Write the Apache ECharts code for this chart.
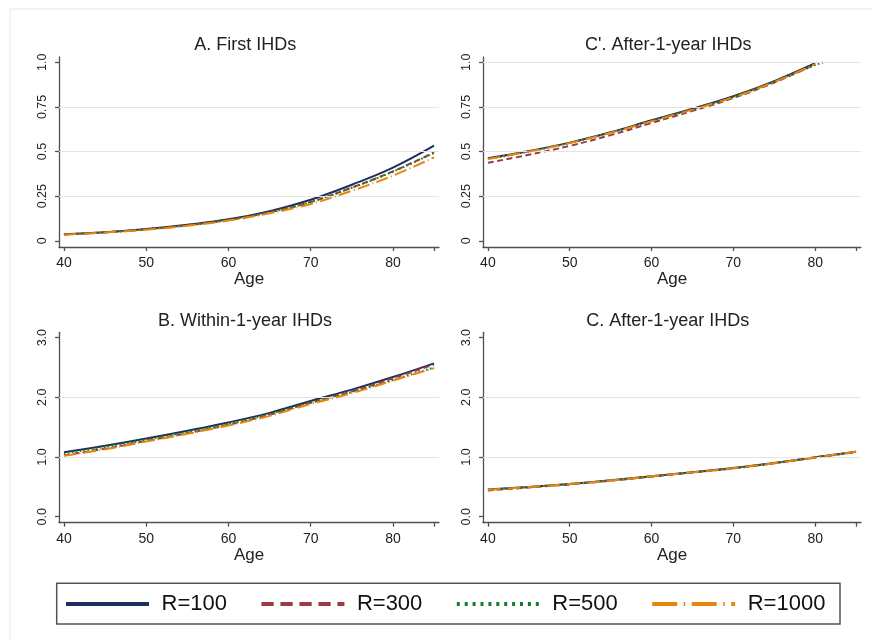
<!DOCTYPE html>
<html>
<head>
<meta charset="utf-8">
<script src="https://cdn.jsdelivr.net/npm/echarts@6/dist/echarts.min.js"></script>
<style>
  html, body { margin: 0; padding: 0; background: #ffffff; }
  #chart { width: 872px; height: 639px; }
</style>
</head>
<body>
<div id="chart"></div>
<script>
// Ages on the horizontal axis
const ages = [40, 45, 50, 55, 60, 65, 70, 75, 80, 85];
const agesAfter = [40, 45, 50, 55, 60, 65, 70, 75, 80];
const agesAfterR500 = [40, 45, 50, 55, 60, 65, 70, 75, 80, 81];

const seriesNames = ['R=100', 'R=300', 'R=500', 'R=1000'];

// A. First IHDs
const firstR100  = [0.036, 0.048, 0.066, 0.090, 0.120, 0.166, 0.230, 0.314, 0.410, 0.533];
const firstR300  = [0.035, 0.047, 0.064, 0.087, 0.117, 0.160, 0.217, 0.298, 0.389, 0.495];
const firstR500  = [0.035, 0.047, 0.064, 0.087, 0.117, 0.160, 0.217, 0.297, 0.387, 0.493];
const firstR1000 = [0.034, 0.046, 0.062, 0.084, 0.113, 0.154, 0.206, 0.280, 0.365, 0.467];

// C'. After-1-year IHDs (0-1 scale)
const afterPR100  = [0.462, 0.503, 0.550, 0.608, 0.675, 0.740, 0.810, 0.895, 0.995];
const afterPR300  = [0.437, 0.482, 0.532, 0.592, 0.660, 0.728, 0.800, 0.887, 0.988];
const afterPR500  = [0.458, 0.500, 0.548, 0.605, 0.672, 0.738, 0.806, 0.892, 0.985, 1.000];
const afterPR1000 = [0.458, 0.500, 0.548, 0.605, 0.670, 0.735, 0.805, 0.890, 0.990];

// B. Within-1-year IHDs
const withinR100  = [1.08, 1.19, 1.31, 1.44, 1.58, 1.74, 1.94, 2.13, 2.34, 2.57];
const withinR300  = [1.03, 1.14, 1.27, 1.40, 1.54, 1.71, 1.91, 2.10, 2.32, 2.55];
const withinR500  = [1.06, 1.17, 1.29, 1.42, 1.56, 1.72, 1.91, 2.09, 2.29, 2.50];
const withinR1000 = [1.02, 1.13, 1.26, 1.39, 1.53, 1.69, 1.89, 2.07, 2.28, 2.49];

// C. After-1-year IHDs (0-3 scale)
const afterR100  = [0.455, 0.500, 0.550, 0.610, 0.680, 0.745, 0.815, 0.900, 0.995, 1.090];
const afterR300  = [0.440, 0.490, 0.542, 0.603, 0.672, 0.740, 0.810, 0.896, 0.992, 1.085];
const afterR500  = [0.452, 0.498, 0.548, 0.608, 0.678, 0.744, 0.813, 0.898, 0.994, 1.088];
const afterR1000 = [0.450, 0.497, 0.547, 0.607, 0.677, 0.743, 0.812, 0.897, 0.993, 1.087];

// Axis ticks and labels
const xTickValues  = [40, 50, 60, 70, 80, 85];
const xLabelValues = [40, 50, 60, 70, 80];
const yTicksSmall  = [0, 0.25, 0.5, 0.75, 1];
const yLabelsSmall = ['0', '0.25', '0.5', '0.75', '1.0'];
const yTicksLarge  = [0, 1, 2, 3];
const yLabelsLarge = ['0.0', '1.0', '2.0', '3.0'];

// Horizontal reference lines per panel
const gridLinesA  = [0.25, 0.5, 0.75];
const gridLinesCp = [0.25, 0.5, 0.75, 1.0];
const gridLinesB  = [1, 2];
const gridLinesC  = [1, 2];

const panelTitles = ['A. First IHDs', "C'. After-1-year IHDs", 'B. Within-1-year IHDs', 'C. After-1-year IHDs'];

const FONT = '"Liberation Sans", Arial, Helvetica, sans-serif';
const AXIS_COLOR = '#505050';
const TEXT_COLOR = '#222222';

const colors = ['#1d2f5e', '#9c3a45', '#13801f', '#e8860c'];
const plotDash = ['solid', [6, 3.5], [1.6, 2.4], [12.5, 3.2, 1, 3.2]];
const legendDash = ['solid', [12.3, 6.7], [3, 4.9], [25, 6.5, 1.5, 6.5]];

const grids = [
  { left: 59,  top: 57,    width: 380, height: 190 },
  { left: 483, top: 57,    width: 378, height: 190 },
  { left: 59,  top: 332.3, width: 380, height: 190.4 },
  { left: 483, top: 332.3, width: 378, height: 190.4 }
];

function zip(xs, ys) {
  return ys.map((y, i) => [xs[i], y]);
}

function makeXAxis(gridIndex) {
  return {
    type: 'value', gridIndex: gridIndex, min: 39.4, max: 85.6,
    name: 'Age', nameLocation: 'middle', nameGap: 22,
    nameTextStyle: { fontFamily: FONT, fontSize: 17, color: TEXT_COLOR },
    axisLine: { show: true, onZero: false, lineStyle: { color: AXIS_COLOR, width: 1.3 } },
    axisTick: { show: true, length: 4, customValues: xTickValues, lineStyle: { color: AXIS_COLOR, width: 1.3 } },
    axisLabel: { customValues: xLabelValues, fontFamily: FONT, fontSize: 14, color: TEXT_COLOR, margin: 9 },
    splitLine: { show: false }
  };
}

function makeYAxis(gridIndex, large) {
  const ticks = large ? yTicksLarge : yTicksSmall;
  const labels = large ? yLabelsLarge : yLabelsSmall;
  return {
    type: 'value', gridIndex: gridIndex,
    min: large ? -0.1 : -0.035, max: large ? 3.09 : 1.03,
    axisLine: { show: true, onZero: false, lineStyle: { color: AXIS_COLOR, width: 1.3 } },
    axisTick: { show: true, length: 4, customValues: ticks, lineStyle: { color: AXIS_COLOR, width: 1.3 } },
    axisLabel: {
      customValues: ticks, rotate: 90, fontFamily: FONT, fontSize: 12.5, color: TEXT_COLOR, margin: 10,
      formatter: function (v) {
        const i = ticks.findIndex(t => Math.abs(t - v) < 1e-9);
        return i >= 0 ? labels[i] : '';
      }
    },
    splitLine: { show: false }
  };
}

function gridLineSeries(gridIndex, values) {
  return {
    type: 'line', name: 'gridlines', xAxisIndex: gridIndex, yAxisIndex: gridIndex,
    data: [], silent: true, z: 1,
    markLine: {
      silent: true, symbol: ['none', 'none'], label: { show: false },
      lineStyle: { color: '#e4e4e4', width: 1.2, type: 'solid' },
      emphasis: { disabled: true },
      data: values.map(v => ({ yAxis: v }))
    }
  };
}

function curve(gridIndex, k, xs, ys) {
  return {
    type: 'line', name: seriesNames[k], xAxisIndex: gridIndex, yAxisIndex: gridIndex,
    data: zip(xs, ys), smooth: 0.4, symbol: 'none', showSymbol: false, z: 2 + k,
    color: colors[k],
    lineStyle: { color: colors[k], width: 2, type: plotDash[k], cap: 'butt' },
    emphasis: { disabled: true }
  };
}

const panels = [
  { xs: [ages, ages, ages, ages], ys: [firstR100, firstR300, firstR500, firstR1000], lines: gridLinesA },
  { xs: [agesAfter, agesAfter, agesAfterR500, agesAfter], ys: [afterPR100, afterPR300, afterPR500, afterPR1000], lines: gridLinesCp },
  { xs: [ages, ages, ages, ages], ys: [withinR100, withinR300, withinR500, withinR1000], lines: gridLinesB },
  { xs: [ages, ages, ages, ages], ys: [afterR100, afterR300, afterR500, afterR1000], lines: gridLinesC }
];

const series = [];
panels.forEach((p, g) => {
  series.push(gridLineSeries(g, p.lines));
  for (let k = 0; k < 4; k++) series.push(curve(g, k, p.xs[k], p.ys[k]));
});

const titlePos = [[245.2, 45], [668.3, 45], [245, 321], [667.7, 321]];

const option = {
  backgroundColor: '#ffffff',
  animation: false,
  grid: grids,
  xAxis: [0, 1, 2, 3].map(makeXAxis),
  yAxis: [makeYAxis(0, false), makeYAxis(1, false), makeYAxis(2, true), makeYAxis(3, true)],
  legend: {
    left: 64, top: 591, padding: 0,
    itemWidth: 83, itemHeight: 14, itemGap: 16.9,
    selectedMode: false,
    itemStyle: { color: 'rgba(0,0,0,0)', borderWidth: 0, opacity: 0 },
    textStyle: { fontFamily: FONT, fontSize: 22, color: '#111111', width: 81, lineHeight: 26, padding: [0, 0, 0, 7.5] },
    data: seriesNames.map((n, k) => ({
      name: n,
      itemStyle: { color: 'rgba(0,0,0,0)', borderWidth: 0, opacity: 0 },
      lineStyle: { width: 4, type: legendDash[k], cap: 'butt' }
    }))
  },
  graphic: [
    {
      type: 'rect', silent: true, z: 0,
      shape: { x: 10, y: 9, width: 900, height: 700 },
      style: { fill: 'none', stroke: '#e8e8e8', lineWidth: 1 }
    },
    {
      type: 'rect', silent: true, z: 0,
      shape: { x: 56.7, y: 583.3, width: 783.3, height: 40.7 },
      style: { fill: 'none', stroke: '#555555', lineWidth: 1.5 }
    }
  ].concat(panelTitles.map((t, i) => ({
    type: 'text', silent: true, x: titlePos[i][0], y: titlePos[i][1],
    style: { text: t, fontFamily: FONT, fontSize: 18, fill: TEXT_COLOR, textAlign: 'center', textVerticalAlign: 'middle' }
  }))),
  series: series
};

const chart = echarts.init(document.getElementById('chart'), null, { renderer: 'canvas' });
chart.setOption(option);
</script>
</body>
</html>
